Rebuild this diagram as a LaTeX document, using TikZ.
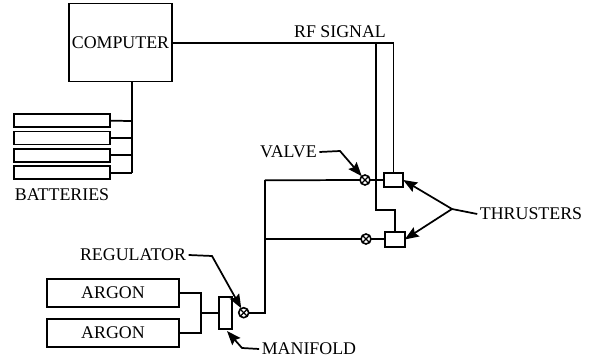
\documentclass[tikz,border=0pt]{standalone}
\usepackage{fontspec}
\setmainfont{Liberation Serif}
\usetikzlibrary{arrows.meta, positioning}
\tikzset{
  wire/.style={line width=1.3pt},
  pointer/.style={line width=1.3pt, -{Stealth[length=10.5pt,width=8pt,inset=1.5pt]}},
  unit/.style={draw, line width=1.3pt, inner sep=0pt, outer sep=0pt},
  battery/.style={unit, minimum width=72pt, minimum height=9.6pt},
  tank/.style={unit, minimum width=99pt, minimum height=21.5pt},
  thruster/.style={unit, minimum width=14.5pt, minimum height=10.8pt},
  valve/.style={circle, draw, line width=1.2pt, inner sep=0pt, outer sep=0pt, minimum size=7.5pt,
    path picture={
      \draw[line width=.9pt] (path picture bounding box.north west) -- (path picture bounding box.south east);
      \draw[line width=.9pt] (path picture bounding box.north east) -- (path picture bounding box.south west);
    }},
  tag/.style={inner sep=0pt, font=\fontsize{13.4}{16}\selectfont},
  labeltag/.style={tag, outer sep=2pt}
}
\begin{document}
\begin{tikzpicture}[x=0.75pt, y=-0.75pt, node distance=13pt]
\useasboundingbox (0,0) rectangle (590,360);

\node (computer) [unit, minimum width=77.25pt, minimum height=58.5pt, tag] at (120.5,42.5) {COMPUTER};

\node (batA) [battery] at (62,120.7) {};
\node (batB) [battery, below of=batA] {};
\node (batC) [battery, below of=batB] {};
\node (batD) [battery, below of=batC] {};
\node (batteries) [tag] at (62,195) {BATTERIES};

\node (rfsignal) [tag] at (340,32) {RF SIGNAL};
\node (valvetag) [labeltag] at (288.5,152) {VALVE};
\node (thrusters) [labeltag] at (531,214) {THRUSTERS};
\node (regtag) [labeltag] at (133,255) {REGULATOR};
\node (manifoldtag) [labeltag] at (309,349) {MANIFOLD};

\node (argonA) [tank, tag] at (113,293) {ARGON};
\node (argonB) [tank, tag] at (113,333) {ARGON};
\node (manifold) [unit, minimum width=9.75pt, minimum height=24pt] at (225.5,313) {};
\node (regulator) [valve] at (243.7,312.7) {};

\node (valveA) [valve] at (365,180) {};
\node (valveB) [valve] at (366,239) {};
\node (thrustA) [thruster] at (393.5,180) {};
\node (thrustB) [thruster] at (395,239.5) {};

\coordinate (rfdrop) at (376,43);
\coordinate (rfturn) at (376,210);
\coordinate (trunkA) at (265,180.3);
\coordinate (trunkB) at (265,239);
\coordinate (trunkC) at (265,312.7);
\coordinate (argonmid) at (201,312.7);
\coordinate (busA) at (132,121);
\coordinate (busD) at (132,172.7);
\coordinate (valvebend) at (340,151);
\coordinate (fork) at (452,209);
\coordinate (regbend) at (212,256);
\coordinate (manbend) at (242,348);
\coordinate (mantip) at (227,331);

\draw[wire] (computer.east |- rfdrop) -| (thrustA.north);
\draw[wire] (rfdrop) -- (rfturn) -| (thrustB.north);
\draw[wire] (computer.south -| busA) -- (busD);
\draw[wire] (batA.east) -- (busA);
\draw[wire] (batB.east) -- (batB.east -| busA);
\draw[wire] (batC.east) -- (batC.east -| busA);
\draw[wire] (batD.east) -- (batD.east -| busA);

\draw[wire] (trunkA) -- (valveA);
\draw[wire] (valveA) -- (thrustA);
\draw[wire] (trunkB) -- (valveB);
\draw[wire] (valveB) -- (thrustB.west |- valveB);
\draw[wire] (regulator) -- (trunkC) -- (trunkA);

\draw[wire] (argonA.east) -| (argonmid);
\draw[wire] (argonB.east) -| (argonmid);
\draw[wire] (argonmid) -- (manifold.west |- argonmid);

\draw[pointer] (valvetag.east) -- (valvebend) -- (valveA);
\draw[pointer] (regtag.east) -- (regbend) -- (regulator);
\draw[pointer] (manifoldtag.west) -- (manbend) -- (mantip);
\draw[wire] (thrusters.west) -- (fork);
\draw[pointer] (fork) -- (thrustA.east);
\draw[pointer] (fork) -- (thrustB.east);
\end{tikzpicture}
\end{document}
